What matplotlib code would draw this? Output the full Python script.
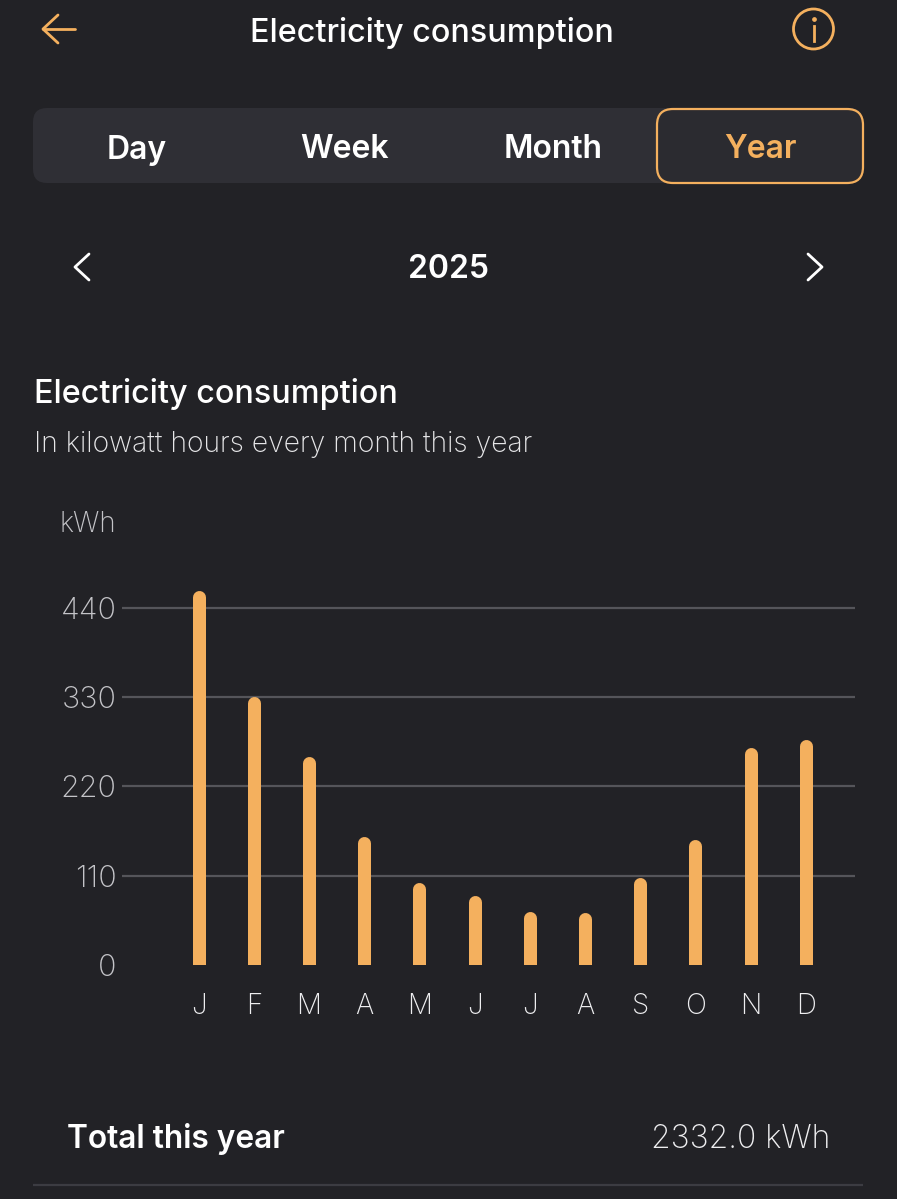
#!/usr/bin/env python3
# electricity consumption app screen, chart + surrounding ui
import matplotlib
matplotlib.use('Agg')
import matplotlib.pyplot as plt
from matplotlib.patches import FancyBboxPatch, Ellipse

months = ['J', 'F', 'M', 'A', 'M', 'J', 'J', 'A', 'S', 'O', 'N', 'D']
consumption = [462, 331, 257, 158, 102, 86, 66, 65, 108, 155, 268, 278]
yticks = [0, 110, 220, 330, 440]
tabs = ['Day', 'Week', 'Month', 'Year']

BG = '#222226'
PILL = '#2f2f35'
ORANGE = '#f4b05e'
WHITE = '#ffffff'
GREY = '#c4c4c8'
GRID = '#55555a'

W, H = 897, 1199
FONT = 'Inter'

plt.rcParams['font.family'] = [FONT, 'DejaVu Sans']

fig = plt.figure(figsize=(W / 100, H / 100), dpi=100, facecolor=BG)

# ui layer in pixel coords
ui = fig.add_axes([0, 0, 1, 1])
ui.set_xlim(0, W)
ui.set_ylim(H, 0)
ui.axis('off')

# header
ui.plot([43, 75], [29, 29], color=ORANGE, lw=2.0, solid_capstyle='round')
ui.plot([58, 43, 58], [15, 29, 43], color=ORANGE, lw=2.0, solid_capstyle='round', solid_joinstyle='round')
ui.text(432, 33, 'Electricity consumption', color=WHITE, fontsize=23.3, fontweight='medium', ha='center', va='center')
ui.add_patch(Ellipse((813.5, 29), 40, 40, fill=False, ec=ORANGE, lw=2.0))
ui.plot([813.5, 813.5], [26, 41], color=ORANGE, lw=2.0)
ui.plot([813.5], [19], 'o', color=ORANGE, ms=2.4)

# tab selector
ui.add_patch(FancyBboxPatch((33, 108), 830, 75, boxstyle='round,pad=0,rounding_size=14', fc=PILL, ec='none'))
ui.add_patch(FancyBboxPatch((657, 109), 206, 74, boxstyle='round,pad=0,rounding_size=16', fc='#2b2b30', ec=ORANGE, lw=1.6))
tab_x = [137, 345, 553, 760]
for t, x in zip(tabs, tab_x):
    ui.text(x, 150, t, color=ORANGE if t == 'Year' else WHITE, fontsize=23, fontweight='semibold', ha='center', va='center')

# year nav
ui.plot([89, 75, 89], [254, 267, 280], color=WHITE, lw=2.0, solid_capstyle='round')
ui.plot([808, 822, 808], [254, 267, 280], color=WHITE, lw=2.0, solid_capstyle='round')
ui.text(448, 270, '2025', color=WHITE, fontsize=23, fontweight='semibold', ha='center', va='center')

# chart heading
ui.text(34, 394, 'Electricity consumption', color=WHITE, fontsize=23.3, fontweight='medium', ha='left', va='center')
ui.text(34, 445, 'In kilowatt hours every month this year', color='#e6e6e8', fontsize=20.4, fontweight='light', ha='left', va='center')
ui.text(116, 525, 'kWh', color=GREY, fontsize=20, fontweight='light', ha='right', va='center')

# footer
ui.text(67, 1139, 'Total this year', color=WHITE, fontsize=22.8, fontweight='semibold', ha='left', va='center')
ui.text(830, 1139, '2332.0 kWh', color='#eeeef0', fontsize=23, fontweight='light', ha='right', va='center')
ui.plot([33, 863], [1185, 1185], color='#3c3c42', lw=1.6, solid_capstyle='butt')

# chart, 0.8114 px per kWh, 55.18 px per month
x0, x1, y0, y1 = 122, 855, 965, 500
ax = fig.add_axes([x0 / W, 1 - y0 / H, (x1 - x0) / W, (y0 - y1) / H])
ax.patch.set_alpha(0)
ax.set_xlim((x0 - 198.7) / 55.18, (x1 - 198.7) / 55.18)
ax.set_ylim(0, (y0 - y1) / 0.8114)
for s in ax.spines.values():
    s.set_visible(False)

xs = list(range(len(months)))
bar_px = 13
cap_r = (bar_px / 2) / 0.8114
# round capped lines, the axes clip squares off the bottom end
ax.vlines(xs, -30, [v - cap_r for v in consumption], color=ORANGE, lw=bar_px * 0.72, capstyle='round', zorder=3)

ax.set_yticks(yticks)
ax.set_xticks(xs)
ax.set_xticklabels(months)
ax.tick_params(axis='both', length=0)
ax.tick_params(axis='x', pad=20, labelsize=20, labelcolor='#eeeef0')
ax.tick_params(axis='y', pad=4, labelsize=22, labelcolor=GREY)
for lab in ax.get_xticklabels() + ax.get_yticklabels():
    lab.set_fontweight('light')
for v in yticks[1:]:
    ax.axhline(v, color=GRID, lw=1.6, zorder=1)

fig.savefig('out.png', dpi=100, facecolor=BG)
